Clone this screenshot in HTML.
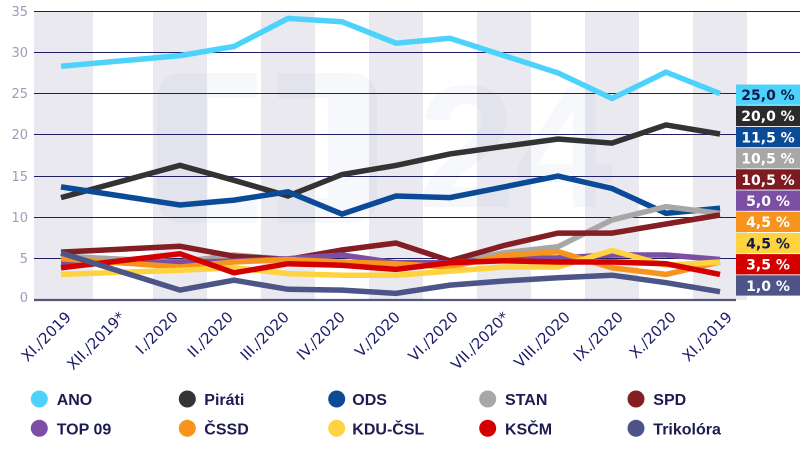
<!DOCTYPE html>
<html><head><meta charset="utf-8"><style>
html,body{margin:0;padding:0;background:#fff;}
svg{display:block;}
</style></head><body>
<svg width="800" height="449" viewBox="0 0 800 449" xmlns="http://www.w3.org/2000/svg">
<rect x="0" y="0" width="800" height="449" fill="#ffffff"/>
<!-- bands -->
<g fill="#e9e9ef">
<rect x="34" y="11" width="59" height="289"/>
<rect x="153" y="11" width="54" height="289"/>
<rect x="261" y="11" width="54" height="289"/>
<rect x="369" y="11" width="54" height="289"/>
<rect x="477" y="11" width="54" height="289"/>
<rect x="585" y="11" width="54" height="289"/>
<rect x="693" y="11" width="54" height="289"/>
</g>
<!-- watermark -->
<g fill="#6478be" fill-opacity="0.05">
<path d="M257,73 H185 Q157,73 157,101 V195 Q157,223 185,223 H257 V198 H208 V98 H257 Z"/>
<path d="M278,73 H349 Q377,73 377,101 V195 Q377,223 349,223 H278 V198 H328 V98 H278 Z"/>
<text x="418" y="207" font-family="Liberation Sans, sans-serif" font-weight="bold" font-size="175">24</text>
</g>
<!-- gridlines -->
<g stroke="#1e1e64" stroke-width="1">
<line x1="34" y1="11.5" x2="800" y2="11.5"/>
<line x1="34" y1="52.5" x2="800" y2="52.5"/>
<line x1="34" y1="93.5" x2="800" y2="93.5"/>
<line x1="34" y1="134.5" x2="800" y2="134.5"/>
<line x1="34" y1="176.5" x2="800" y2="176.5"/>
<line x1="34" y1="217.5" x2="800" y2="217.5"/>
<line x1="34" y1="258.5" x2="800" y2="258.5"/>
</g>
<line x1="34" y1="300" x2="736" y2="300" stroke="#55557e" stroke-width="2.2"/>
<!-- y labels -->
<g font-family="DejaVu Sans, sans-serif" font-size="13" fill="#9d9cbc" text-anchor="end">
<text x="28" y="16">35</text>
<text x="28" y="57">30</text>
<text x="28" y="98">25</text>
<text x="28" y="139">20</text>
<text x="28" y="181">15</text>
<text x="28" y="222">10</text>
<text x="28" y="263">5</text>
<text x="28" y="302">0</text>
</g>
<!-- series -->
<g fill="none" stroke-width="5.5" stroke-linejoin="miter" stroke-linecap="butt">
<polyline stroke="#4dd3fb" points="61,66.3 180,55.6 234,46.5 288,18.4 342,21.7 396,43.2 450,38.3 504,55.6 558,72.9 612,98.5 666,72.1 720,93.6"/>
<polyline stroke="#333333" points="61,197.6 180,165.4 234,180.3 288,196 342,174.5 396,165.4 450,153.9 504,146.4 558,139 612,143.1 666,124.9 720,134"/>
<polyline stroke="#0a4a96" points="61,186.9 180,205 234,200.1 288,191.8 342,214.1 396,196 450,197.6 504,186.9 558,176.1 612,188.5 666,213.3 720,208.3"/>
<polyline stroke="#a7a7a7" points="61,256.2 180,262 234,255 288,259.5 342,262.8 396,263.7 450,262.8 504,252.9 558,246.7 612,219.9 666,206.7 720,213.3"/>
<polyline stroke="#841d24" points="61,252.1 180,246.3 234,256.2 288,259.5 342,250 396,243 450,260.8 504,245.5 558,233.1 612,233.1 666,224 720,215"/>
<polyline stroke="#7b4fa3" points="61,262.8 180,262 234,261.2 288,258.7 342,255 396,262.8 450,262.8 504,258.7 558,257.9 612,255 666,255 720,259.5"/>
<polyline stroke="#f7941e" points="61,258.7 180,267 234,262 288,259.5 342,262 396,263.7 450,267 504,255.4 558,251.7 612,267.8 666,274.4 720,262"/>
<polyline stroke="#ffd23f" points="61,274.4 180,270.3 234,267.8 288,273.6 342,275.2 396,275.2 450,271.1 504,267 558,267 612,250.5 666,265.3 720,262"/>
<polyline stroke="#d40000" points="61,267.8 180,253.8 234,272.8 288,263.7 342,265.3 396,269.4 450,262.8 504,260.8 558,262 612,262 666,263.7 720,274.4"/>
<polyline stroke="#4d5487" points="61,252.9 180,290.1 234,280.2 288,289.3 342,290.1 396,293.4 450,285.1 504,281 558,277.7 612,275.2 666,282.7 720,291.7"/>
</g>
<!-- value boxes -->
<g>
<rect x="736" y="84.5" width="64" height="20.3" fill="#4dd3fb"/>
<rect x="736" y="105.7" width="64" height="20.3" fill="#2b2b2b"/>
<rect x="736" y="126.9" width="64" height="20.3" fill="#0a4a96"/>
<rect x="736" y="148.1" width="64" height="20.3" fill="#a7a7a7"/>
<rect x="736" y="169.3" width="64" height="20.3" fill="#7d1a22"/>
<rect x="736" y="190.5" width="64" height="20.3" fill="#7b4fa3"/>
<rect x="736" y="211.7" width="64" height="20.3" fill="#f7941e"/>
<rect x="736" y="232.9" width="64" height="20.3" fill="#ffd23f"/>
<rect x="736" y="254.1" width="64" height="20.3" fill="#d40000"/>
<rect x="736" y="275.3" width="64" height="20.3" fill="#4d5487"/>
</g>
<g font-family="DejaVu Sans, sans-serif" font-weight="bold" font-size="14" text-anchor="middle" fill="#ffffff">
<text x="768" y="100" fill="#0d1b4a">25,0 %</text>
<text x="768" y="121.2">20,0 %</text>
<text x="768" y="142.4">11,5 %</text>
<text x="768" y="163.6">10,5 %</text>
<text x="768" y="184.8">10,5 %</text>
<text x="768" y="206">5,0 %</text>
<text x="768" y="227.2">4,5 %</text>
<text x="768" y="248.4" fill="#0d1b4a">4,5 %</text>
<text x="768" y="269.6">3,5 %</text>
<text x="768" y="290.8">1,0 %</text>
</g>
<!-- x labels -->
<g font-family="DejaVu Sans, sans-serif" font-size="15" fill="#1d1d6b" text-anchor="end">
<text transform="translate(72,318) rotate(-45)">XI./2019</text>
<text transform="translate(126,318) rotate(-45)">XII./2019*</text>
<text transform="translate(179,318) rotate(-45)">I./2020</text>
<text transform="translate(234,318) rotate(-45)">II./2020</text>
<text transform="translate(290,318) rotate(-45)">III./2020</text>
<text transform="translate(346,318) rotate(-45)">IV./2020</text>
<text transform="translate(401,318) rotate(-45)">V./2020</text>
<text transform="translate(459,318) rotate(-45)">VI./2020</text>
<text transform="translate(510,318) rotate(-45)">VII./2020*</text>
<text transform="translate(571,318) rotate(-45)">VIII./2020</text>
<text transform="translate(624,318) rotate(-45)">IX./2020</text>
<text transform="translate(677,318) rotate(-45)">X./2020</text>
<text transform="translate(733,318) rotate(-45)">XI./2019</text>
</g>
<!-- legend -->
<g>
<circle cx="39.3" cy="399" r="8.5" fill="#4dd3fb"/>
<circle cx="187.3" cy="399" r="8.5" fill="#333333"/>
<circle cx="336.7" cy="399" r="8.5" fill="#0a4a96"/>
<circle cx="487.7" cy="399" r="8.5" fill="#a7a7a7"/>
<circle cx="636" cy="399" r="8.5" fill="#841d24"/>
<circle cx="39.3" cy="428.3" r="8.5" fill="#7b4fa3"/>
<circle cx="187.3" cy="428.3" r="8.5" fill="#f7941e"/>
<circle cx="336.7" cy="428.3" r="8.5" fill="#ffd23f"/>
<circle cx="487.7" cy="428.3" r="8.5" fill="#d40000"/>
<circle cx="636" cy="428.3" r="8.5" fill="#4d5487"/>
</g>
<g font-family="Liberation Sans, sans-serif" font-weight="bold" font-size="16" fill="#1c1c50">
<text x="56.7" y="405">ANO</text>
<text x="204.3" y="405">Piráti</text>
<text x="352.3" y="405">ODS</text>
<text x="505" y="405">STAN</text>
<text x="653.3" y="405">SPD</text>
<text x="56.7" y="434.3">TOP 09</text>
<text x="204.3" y="434.3">ČSSD</text>
<text x="352.3" y="434.3">KDU-ČSL</text>
<text x="505" y="434.3">KSČM</text>
<text x="653.3" y="434.3">Trikolóra</text>
</g>
</svg>
</body></html>
